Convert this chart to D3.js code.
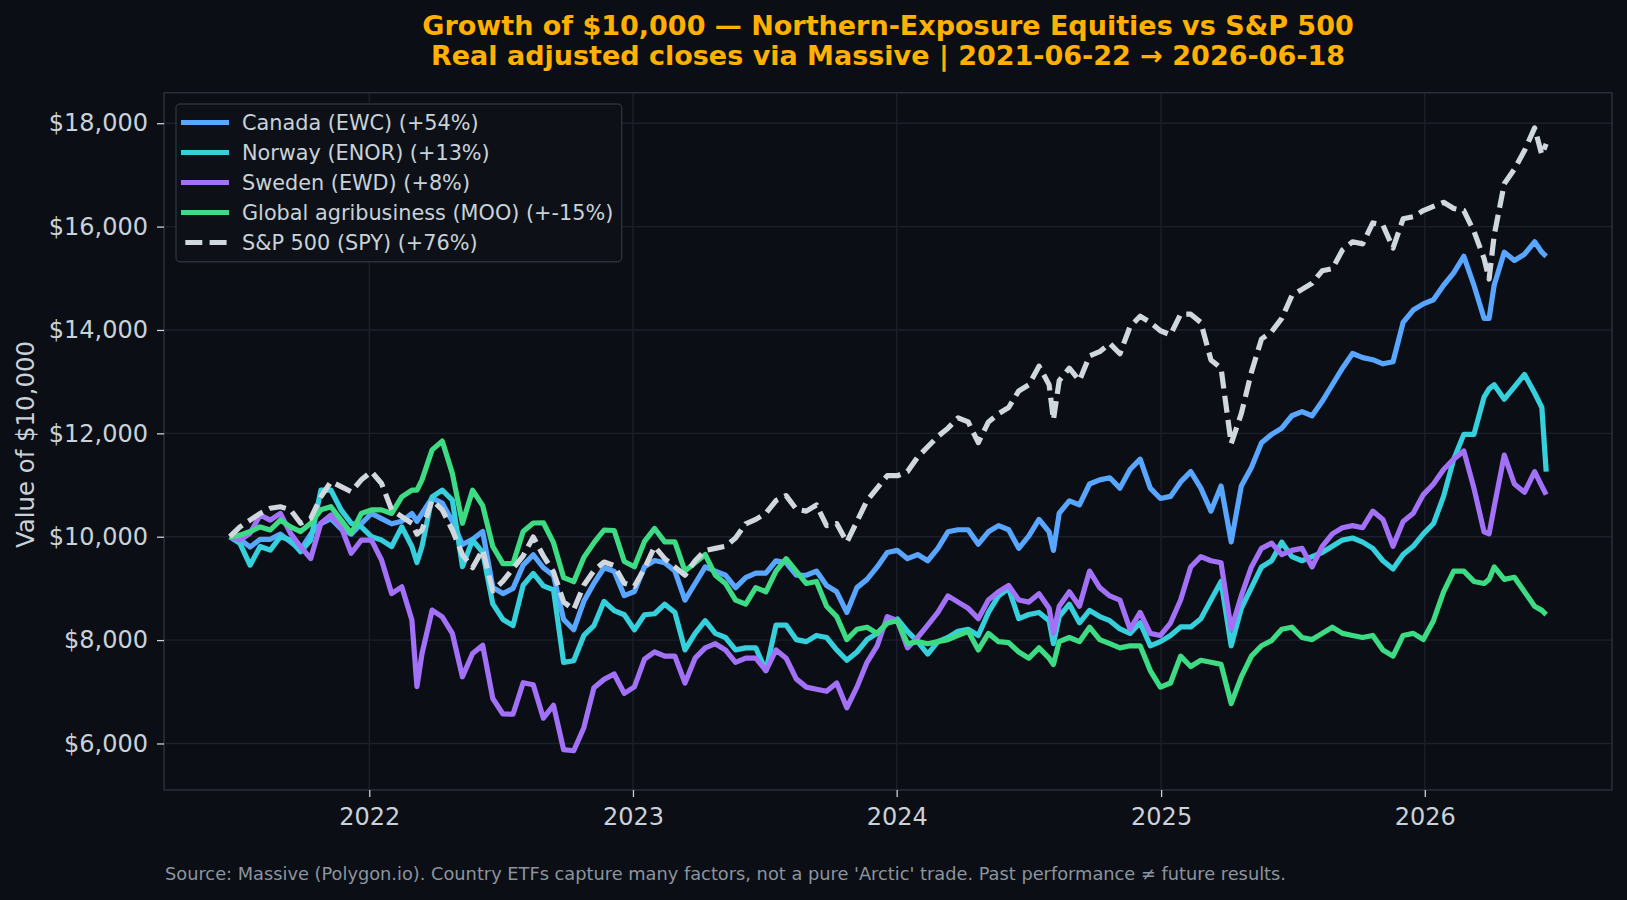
<!DOCTYPE html>
<html>
<head>
<meta charset="utf-8">
<script src="https://cdn.jsdelivr.net/npm/d3@7"></script>
<style>
    body { margin: 0; background: #0b0e14; }
    svg text { font-family: "DejaVu Sans", sans-serif; }
</style>
</head>
<body>
<div class="chart"></div>
<script>
// sample dates (every two weeks, plus a few spike days)
const dates = [
    "2021-06-22","2021-07-06","2021-07-20","2021-08-03","2021-08-17","2021-08-31","2021-09-14","2021-09-28","2021-10-12","2021-10-26","2021-11-09","2021-11-23","2021-12-07","2021-12-21",
    "2022-01-04","2022-01-18","2022-02-01","2022-02-15","2022-03-01","2022-03-08","2022-03-15","2022-03-29","2022-04-12","2022-04-26","2022-05-10","2022-05-24","2022-06-07","2022-06-21","2022-07-05","2022-07-19","2022-08-02","2022-08-16","2022-08-30","2022-09-13","2022-09-27","2022-10-11","2022-10-25","2022-11-08","2022-11-22","2022-12-06","2022-12-20",
    "2023-01-03","2023-01-17","2023-01-31","2023-02-14","2023-02-28","2023-03-14","2023-03-28","2023-04-11","2023-04-25","2023-05-09","2023-05-23","2023-06-06","2023-06-20","2023-07-04","2023-07-18","2023-08-01","2023-08-15","2023-08-29","2023-09-12","2023-09-26","2023-10-10","2023-10-24","2023-11-07","2023-11-21","2023-12-05","2023-12-19",
    "2024-01-02","2024-01-16","2024-01-30","2024-02-13","2024-02-27","2024-03-12","2024-03-26","2024-04-09","2024-04-23","2024-05-07","2024-05-21","2024-06-04","2024-06-18","2024-07-02","2024-07-16","2024-07-30","2024-08-05","2024-08-13","2024-08-27","2024-09-10","2024-09-24","2024-10-08","2024-10-22","2024-11-05","2024-11-19","2024-12-03","2024-12-17","2024-12-31",
    "2025-01-14","2025-01-28","2025-02-11","2025-02-25","2025-03-11","2025-03-25","2025-04-08","2025-04-22","2025-05-06","2025-05-20","2025-06-03","2025-06-17","2025-07-01","2025-07-15","2025-07-29","2025-08-12","2025-08-26","2025-09-09","2025-09-23","2025-10-07","2025-10-21","2025-11-04","2025-11-18","2025-12-02","2025-12-16","2025-12-30",
    "2026-01-13","2026-01-27","2026-02-10","2026-02-24","2026-03-10","2026-03-24","2026-03-31","2026-04-07","2026-04-21","2026-05-05","2026-05-19","2026-06-02","2026-06-12","2026-06-18"
];

// value of $10,000 per series
const canada = [
    10000,9950,9800,9950,9950,10050,9900,9750,10050,10250,10350,10150,10050,10250,
    10450,10350,10250,10300,10450,10300,10450,10750,10650,10300,9850,9950,10100,9020,8900,9000,9450,9650,9400,9250,8400,8200,8750,9100,9400,9330,8860,
    8940,9420,9540,9495,9335,8775,9095,9415,9335,9255,9015,9210,9295,9295,9535,9495,9255,9255,9335,9055,8935,8535,9015,9175,9415,9695,
    9735,9575,9655,9535,9775,10095,10135,10135,9855,10095,10215,10135,9775,10015,10335,10095,9735,10455,10695,10615,11020,11100,11140,10940,11300,11500,10940,10740,
    10780,11060,11260,10940,10495,10980,9900,10980,11340,11820,11980,12100,12340,12420,12340,12620,12940,13260,13545,13465,13425,13345,13385,14145,14385,14505,
    14585,14865,15105,15425,14865,14225,14225,14865,15505,15345,15465,15705,15505,15425
];
const norway = [
    10000,9870,9450,9810,9740,10000,9935,9710,9935,10900,10900,10520,10260,10190,
    10000,9935,9810,10190,9810,9500,9810,10770,10900,10710,9420,9935,9700,8700,8400,8280,9060,9290,9050,8970,7570,7600,8090,8280,8750,8570,8490,
    8200,8490,8510,8695,8535,7810,8130,8375,8130,8050,7810,7850,7850,7410,8290,8290,8010,7970,8090,8050,7810,7610,7770,8010,8130,8330,
    8410,8170,7970,7730,7970,8050,8170,8210,8090,8535,8855,9000,8415,8495,8535,8375,7930,8455,8695,8335,8575,8455,8375,8215,8130,8335,7890,7970,
    8090,8255,8255,8415,8775,9135,7890,8615,9015,9415,9535,9895,9615,9535,9615,9695,9815,9935,9975,9895,9775,9535,9375,9655,9815,10055,
    10255,10780,11500,11980,11980,12700,12860,12940,12660,12900,13140,12780,12500,11260
];
const sweden = [
    10000,9935,10065,10420,10320,10450,10065,9805,9580,10260,10420,10190,9680,9935,
    9935,9550,8900,9030,8390,7100,7740,8580,8450,8130,7290,7740,7900,6870,6570,6565,7175,7135,6490,6740,5880,5860,6305,7080,7240,7345,6970,
    7095,7630,7770,7690,7690,7170,7650,7850,7930,7810,7570,7650,7650,7410,7810,7650,7250,7090,7050,7010,7170,6690,7090,7570,7890,8455,
    8375,7850,8050,8290,8535,8855,8735,8615,8415,8775,8935,9055,8775,8735,8895,8615,8130,8655,8935,8655,9335,9015,8855,8775,8210,8535,8130,8090,
    8330,8775,9415,9615,9535,9495,8210,8855,9415,9775,9875,9655,9735,9775,9415,9815,10055,10175,10215,10175,10495,10335,9815,10295,10455,10815,
    11020,11300,11500,11660,10940,10095,10055,10575,11580,11020,10860,11260,10980,10815
];
const moo = [
    10000,10030,10100,10190,10130,10320,10190,10100,10260,10520,10580,10320,10065,10450,
    10520,10520,10450,10770,10900,10900,11100,11680,11850,11225,10260,10900,10600,9810,9480,9480,10100,10265,10270,9885,9210,9130,9600,9885,10130,10120,9520,
    9420,9910,10160,9900,9900,9335,9495,9655,9255,9095,8775,8695,9015,8935,9335,9575,9335,9095,9135,8655,8455,8010,8210,8250,8130,8330,
    8375,7930,7970,7930,7970,8010,8090,8170,7810,8130,7970,7950,7770,7650,7850,7650,7530,7970,8050,7970,8250,8010,7930,7850,7890,7890,7410,7090,
    7170,7690,7490,7610,7570,7530,6770,7290,7690,7890,7990,8210,8250,8050,8010,8130,8250,8130,8090,8050,8090,7810,7690,8090,8130,8010,
    8375,8935,9335,9335,9135,9095,9175,9415,9175,9215,8935,8655,8575,8495
];
const spy = [
    10000,10190,10320,10450,10550,10580,10520,10260,10355,10770,11065,10970,10870,11100,
    11260,11030,10520,10390,10260,10050,10130,10710,10520,10130,9650,9400,9750,8950,9140,9385,9630,9995,9630,9320,8740,8590,9060,9345,9510,9440,9100,
    9040,9385,9810,9575,9415,9255,9535,9735,9775,9815,9975,10250,10335,10455,10700,10795,10535,10495,10615,10215,10255,9895,10295,10700,10940,11180,
    11180,11260,11540,11740,11940,12100,12300,12220,11820,12220,12380,12500,12820,12940,13300,12940,12260,13020,13260,13020,13500,13580,13740,13540,14065,14265,14145,13985,
    13905,14305,14305,14145,13420,13260,11800,12380,13180,13825,13965,14225,14665,14785,14905,15145,15185,15545,15705,15665,16070,16030,15585,16150,16190,16310,
    16390,16470,16350,16310,15910,15385,14985,15830,16830,17110,17470,17910,17390,17600
];

const seriesNames = ["Canada (EWC) (+54%)", "Norway (ENOR) (+13%)", "Sweden (EWD) (+8%)",
    "Global agribusiness (MOO) (+-15%)", "S&P 500 (SPY) (+76%)"];
const seriesColors = ["#58a6ff", "#36d0dc", "#a371f7", "#3ddc84", "#d0d7de"];
const yTicks = [6000, 8000, 10000, 12000, 14000, 16000, 18000];
const xTickYears = [2022, 2023, 2024, 2025, 2026];

const titleLines = ["Growth of $10,000 \u2014 Northern-Exposure Equities vs S&P 500",
    "Real adjusted closes via Massive | 2021-06-22 \u2192 2026-06-18"];
const footNote = "Source: Massive (Polygon.io). Country ETFs capture many factors, not a pure 'Arctic' trade. Past performance \u2260 future results.";

// layout
const W = 1627, H = 900;
const margin = {top: 92.7, right: 15, bottom: 110, left: 164};
const width = W - margin.left - margin.right;
const height = H - margin.top - margin.bottom;

const parse = d3.timeParse("%Y-%m-%d");
const dts = dates.map(parse);

const svg = d3.select(".chart").append("svg")
    .attr("width", W)
    .attr("height", H);

svg.append("rect").attr("width", W).attr("height", H).attr("fill", "#0b0e14");

const g = svg.append("g")
    .attr("transform", "translate(" + margin.left + "," + margin.top + ")");

// scales (5% padding like matplotlib)
const t0 = dts[0].getTime(), t1 = dts[dts.length - 1].getTime();
const pad = (t1 - t0) * 0.05;
const xScale = d3.scaleTime()
    .domain([new Date(t0 - pad), new Date(t1 + pad)])
    .range([0, width]);

const yScale = d3.scaleLinear()
    .domain([5100, 18590])
    .range([height, 0]);

// grid
const xTickDates = xTickYears.map(y => new Date(y, 0, 1));
g.append("g").selectAll("line")
    .data(yTicks).enter().append("line")
    .attr("x1", 0).attr("x2", width)
    .attr("y1", d => yScale(d)).attr("y2", d => yScale(d))
    .attr("stroke", "#1b202b").attr("stroke-width", 1.4);
g.append("g").selectAll("line")
    .data(xTickDates).enter().append("line")
    .attr("x1", d => xScale(d)).attr("x2", d => xScale(d))
    .attr("y1", 0).attr("y2", height)
    .attr("stroke", "#1b202b").attr("stroke-width", 1.4);

// lines
const allSeries = [canada, norway, sweden, moo, spy];
const line = d3.line()
    .x((d, i) => xScale(dts[i]))
    .y(d => yScale(d));

allSeries.forEach((s, k) => {
    g.append("path")
        .datum(s)
        .attr("d", line)
        .attr("fill", "none")
        .attr("stroke", seriesColors[k])
        .attr("stroke-width", 5.2)
        .attr("stroke-linejoin", "round")
        .attr("stroke-dasharray", k === 4 ? "17 7.3" : null);
});

// frame
g.append("rect")
    .attr("width", width).attr("height", height)
    .attr("fill", "none").attr("stroke", "#2b313c").attr("stroke-width", 1.4);

// axes
const yAxis = g.append("g")
    .call(d3.axisLeft(yScale).tickValues(yTicks)
        .tickFormat(d => "$" + d3.format(",")(d))
        .tickSize(7).tickPadding(9));
const xAxis = g.append("g")
    .attr("transform", "translate(0," + height + ")")
    .call(d3.axisBottom(xScale).tickValues(xTickDates)
        .tickFormat(d3.timeFormat("%Y"))
        .tickSize(7).tickPadding(11));

[yAxis, xAxis].forEach(ax => {
    ax.select(".domain").remove();
    ax.selectAll(".tick line").attr("stroke", "#c9d1d9").attr("stroke-width", 1.3);
    ax.selectAll(".tick text").attr("fill", "#c9d1d9").style("font-size", "24px");
});

// y label
svg.append("text")
    .attr("transform", "rotate(-90)")
    .attr("x", -444.5).attr("y", 34)
    .attr("text-anchor", "middle")
    .attr("fill", "#c9d1d9")
    .style("font-size", "24.4px")
    .text("Value of $10,000");

// title
svg.selectAll(".title")
    .data(titleLines).enter().append("text")
    .attr("class", "title")
    .attr("x", margin.left + width / 2)
    .attr("y", (d, i) => 35 + i * 30)
    .attr("text-anchor", "middle")
    .attr("fill", "#ffb000")
    .style("font-size", "27px")
    .style("font-weight", "bold")
    .text(d => d);

// footer
svg.append("text")
    .attr("x", 165).attr("y", 880)
    .attr("fill", "#8b949e")
    .style("font-size", "17.8px")
    .text(footNote);

// legend
const legend = svg.append("g");
legend.append("rect")
    .attr("x", 176).attr("y", 104)
    .attr("width", 445.7).attr("height", 157.7)
    .attr("rx", 4)
    .attr("fill", "#0d1117").attr("stroke", "#2b313c").attr("stroke-width", 1.4);

seriesNames.forEach((name, k) => {
    const cy = 122.5 + k * 30;
    legend.append("line")
        .attr("x1", 181).attr("x2", 229)
        .attr("y1", cy).attr("y2", cy)
        .attr("stroke", seriesColors[k])
        .attr("stroke-width", 5.2)
        .attr("stroke-dasharray", k === 4 ? "17 7.3" : null)
        .attr("stroke-dashoffset", k === 4 ? 20 : null);
    legend.append("text")
        .attr("x", 242).attr("y", cy)
        .attr("dy", "0.35em")
        .attr("fill", "#c9d1d9")
        .style("font-size", "20.8px")
        .text(name);
});
</script>
</body>
</html>
